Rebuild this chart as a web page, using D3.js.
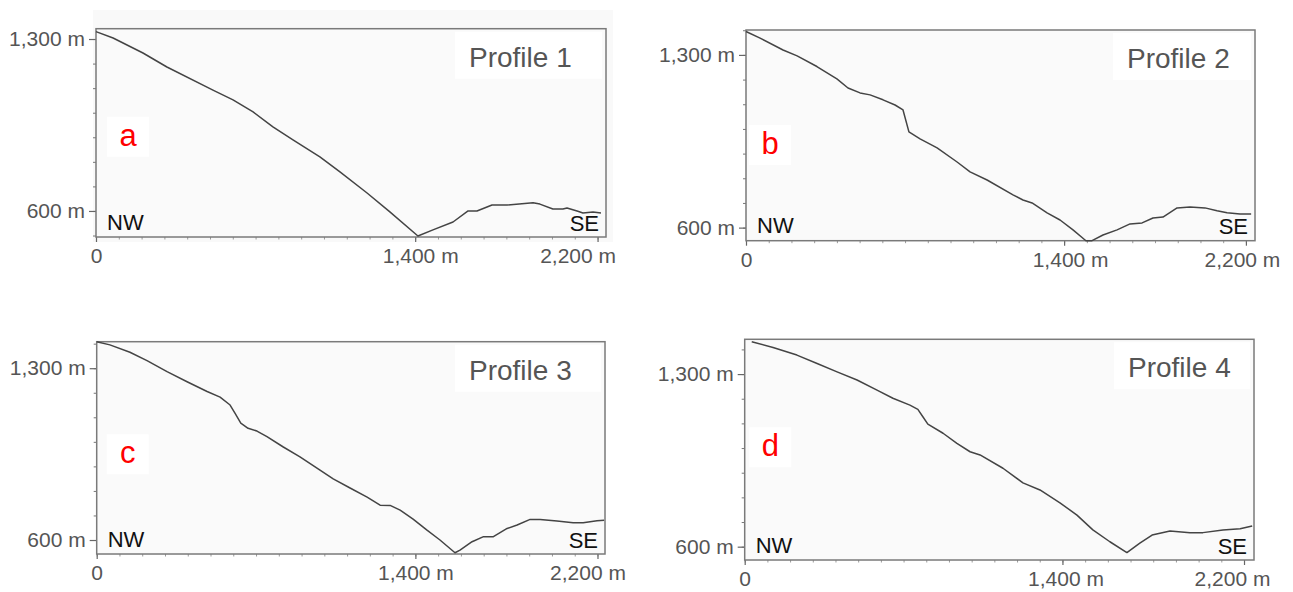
<!DOCTYPE html>
<html>
<head>
<meta charset="utf-8">
<script src="https://cdn.jsdelivr.net/npm/d3@7"></script>
<style>
  html, body { margin: 0; padding: 0; background: #ffffff; }
  svg { display: block; font-family: "Liberation Sans", Arial, sans-serif; }
</style>
</head>
<body>
<svg id="chart" width="1293" height="592"></svg>
<script>
// Elevation profiles along four NW–SE transects (distance in m, elevation in m)
const profile1Dist = [0, 75, 206, 311, 513, 601, 689, 776, 864, 982, 1070, 1189, 1289, 1412, 1478, 1566, 1632, 1671, 1737, 1803, 1917, 1947, 2004, 2048, 2066, 2110, 2136, 2180, 2215];
const profile1Elev = [1330, 1304, 1243, 1186, 1092, 1052, 1003, 942, 889, 820, 759, 673, 596, 498, 523, 555, 600, 600, 624, 624, 633, 628, 608, 608, 612, 600, 592, 596, 592];

const profile2Dist = [0, 62, 163, 225, 312, 400, 449, 502, 546, 603, 656, 691, 717, 766, 841, 929, 986, 1061, 1175, 1219, 1259, 1325, 1382, 1439, 1496, 1523, 1571, 1633, 1690, 1743, 1791, 1835, 1897, 1954, 2020, 2073, 2117, 2174, 2223];
const profile2Elev = [1395, 1368, 1320, 1296, 1253, 1203, 1166, 1146, 1138, 1118, 1097, 1077, 988, 960, 923, 866, 826, 793, 733, 712, 700, 660, 631, 591, 547, 547, 570, 591, 615, 619, 639, 643, 680, 684, 680, 668, 660, 655, 655];

const profile3Dist = [0, 58, 146, 221, 309, 397, 485, 542, 586, 608, 633, 665, 704, 748, 818, 893, 981, 1039, 1113, 1188, 1245, 1289, 1333, 1390, 1451, 1508, 1574, 1596, 1649, 1697, 1741, 1803, 1847, 1904, 1948, 2022, 2093, 2137, 2198, 2229];
const profile3Elev = [1408, 1395, 1365, 1331, 1286, 1245, 1205, 1182, 1150, 1116, 1076, 1055, 1044, 1021, 980, 939, 885, 849, 812, 775, 742, 741, 722, 685, 640, 600, 548, 559, 593, 613, 613, 647, 661, 684, 684, 677, 670, 670, 678, 681];

const profile4Dist = [31, 125, 230, 319, 407, 495, 583, 653, 728, 763, 785, 807, 874, 935, 993, 1037, 1138, 1226, 1301, 1389, 1464, 1534, 1609, 1684, 1741, 1795, 1874, 1962, 2019, 2107, 2183, 2236];
const profile4Elev = [1431, 1408, 1377, 1343, 1309, 1276, 1235, 1202, 1174, 1157, 1127, 1097, 1060, 1019, 985, 972, 918, 859, 830, 778, 728, 668, 620, 576, 614, 647, 664, 657, 657, 668, 673, 684];

const panelLetters = ["a", "b", "c", "d"];
const panelTitles = ["Profile 1", "Profile 2", "Profile 3", "Profile 4"];
const xTickValues = [0, 1400, 2200];
const yTickValues = [600, 1300];
const startLabel = "NW";
const endLabel = "SE";

const fmtDist = d => d === 0 ? "0" : d3.format(",")(d) + " m";
const fmtElev = d => d3.format(",")(d) + " m";

// Frame geometry and axis ranges of each panel
const layout = [
  { left: 96,    top: 28.7,  right: 606,  bottom: 237, xMax: 2237, yMin: 494, yMax: 1342,
    letterBox: [11, 88], titleOff: 151, labelDx: [0, 5, -20] },
  { left: 746,   top: 30,    right: 1255, bottom: 240.7, xMax: 2240, yMin: 547, yMax: 1401,
    letterBox: [3, 95], titleOff: 142, labelDx: [0, 6, -4] },
  { left: 96.7,  top: 341.7, right: 605,  bottom: 554, xMax: 2233, yMin: 543, yMax: 1408,
    letterBox: [10, 92.6], titleOff: 150, labelDx: [0, 0, -10] },
  { left: 744.7, top: 339.3, right: 1254, bottom: 560, xMax: 2244, yMin: 546, yMax: 1441,
    letterBox: [4.6, 88], titleOff: 140, labelDx: [0, 3, -12] }
];

const profiles = [
  [profile1Dist, profile1Elev],
  [profile2Dist, profile2Elev],
  [profile3Dist, profile3Elev],
  [profile4Dist, profile4Elev]
];

const svg = d3.select("#chart");
svg.append("rect").attr("width", 1293).attr("height", 592).attr("fill", "#ffffff");

// faint backdrop behind the first panel
svg.append("rect")
  .attr("x", 93).attr("y", 10).attr("width", 520).attr("height", 232)
  .attr("fill", "#f9f9f9");

layout.forEach((L, i) => {
  const [dist, elev] = profiles[i];
  const x = d3.scaleLinear().domain([0, L.xMax]).range([L.left, L.right]);
  const y = d3.scaleLinear().domain([L.yMin, L.yMax]).range([L.bottom, L.top]);

  const g = svg.append("g");

  // plot area
  g.append("rect")
    .attr("x", L.left).attr("y", L.top)
    .attr("width", L.right - L.left).attr("height", L.bottom - L.top)
    .attr("fill", "#fafafa");

  // minor ticks every 100 m
  const yMinor = d3.range(Math.ceil(L.yMin / 100) * 100, L.yMax, 100);
  const xMinor = d3.range(0, L.xMax, 100);

  g.append("g")
    .attr("transform", `translate(${L.left},0)`)
    .call(d3.axisLeft(y).tickValues(yMinor).tickSize(3).tickFormat(""))
    .call(a => a.select(".domain").remove())
    .call(a => a.selectAll("line").attr("stroke", "#777"));

  g.append("g")
    .attr("transform", `translate(0,${L.bottom})`)
    .call(d3.axisBottom(x).tickValues(xMinor).tickSize(2.5).tickFormat(""))
    .call(a => a.select(".domain").remove())
    .call(a => a.selectAll("line").attr("stroke", "#999"));

  // labelled ticks
  const yAxis = g.append("g")
    .attr("transform", `translate(${L.left},0)`)
    .call(d3.axisLeft(y).tickValues(yTickValues).tickSize(7).tickPadding(4).tickFormat(fmtElev));
  yAxis.select(".domain").remove();
  yAxis.selectAll("line").attr("stroke", "#666").attr("stroke-width", 1.2);
  yAxis.selectAll("text")
    .attr("fill", "#555").style("font-size", "21px").style("font-family", "Liberation Sans, Arial, sans-serif");

  const xAxis = g.append("g")
    .attr("transform", `translate(0,${L.bottom})`)
    .call(d3.axisBottom(x).tickValues(xTickValues).tickSize(5).tickPadding(6).tickFormat(fmtDist));
  xAxis.select(".domain").remove();
  xAxis.selectAll("line").attr("stroke", "#666").attr("stroke-width", 1.2);
  xAxis.selectAll("text")
    .attr("fill", "#555").style("font-size", "21px").style("font-family", "Liberation Sans, Arial, sans-serif")
    .attr("dx", (d, k) => L.labelDx[k]);

  // frame
  g.append("rect")
    .attr("x", L.left).attr("y", L.top)
    .attr("width", L.right - L.left).attr("height", L.bottom - L.top)
    .attr("fill", "none").attr("stroke", "#7a7a7a").attr("stroke-width", 1.5);

  // profile title box
  const tb = g.append("g").attr("transform", `translate(${L.right - L.titleOff},${L.top + 3})`);
  tb.append("rect").attr("width", L.titleOff - 4).attr("height", 47).attr("fill", "#ffffff");
  tb.append("text").attr("x", 14).attr("y", 35)
    .attr("fill", "#555").style("font-size", "28px").text(panelTitles[i]);

  // panel letter
  const lb = g.append("g").attr("transform", `translate(${L.left + L.letterBox[0]},${L.top + L.letterBox[1]})`);
  lb.append("rect").attr("width", 42).attr("height", 40).attr("fill", "#ffffff");
  lb.append("text").attr("x", 21).attr("y", 29).attr("text-anchor", "middle")
    .attr("fill", "#ff0000").style("font-size", "31px").text(panelLetters[i]);

  // direction labels
  g.append("text").attr("x", L.left + 11).attr("y", L.bottom - 7.5)
    .attr("fill", "#111").style("font-size", "22px").text(startLabel);
  g.append("text").attr("x", L.right - 7).attr("y", L.bottom - 6.5).attr("text-anchor", "end")
    .attr("fill", "#111").style("font-size", "22px").text(endLabel);

  // elevation profile
  const line = d3.line().x((d, k) => x(dist[k])).y((d, k) => y(elev[k]));
  g.append("path")
    .datum(dist)
    .attr("d", line)
    .attr("fill", "none")
    .attr("stroke", "#444")
    .attr("stroke-width", 1.5)
    .attr("stroke-linejoin", "round");
});
</script>
</body>
</html>
